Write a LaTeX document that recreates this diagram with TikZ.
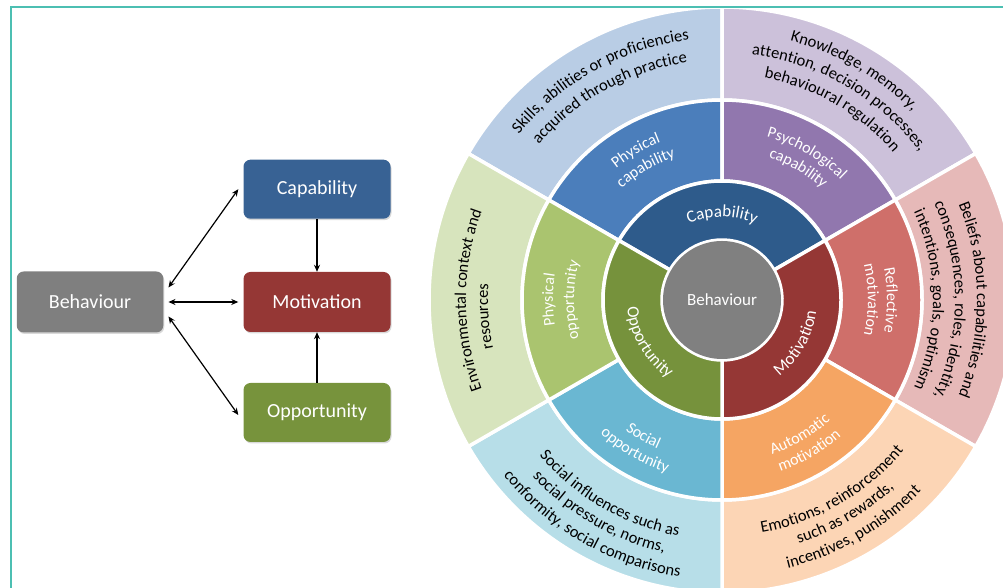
\documentclass[tikz,border=0pt]{standalone}
\usepackage{fontspec}
\setmainfont{Carlito}
\usetikzlibrary{arrows.meta,decorations.text,shadows}
\definecolor{capD}{HTML}{2E5B8B}
\definecolor{capM}{HTML}{4B7EBB}
\definecolor{capL}{HTML}{B9CDE5}
\definecolor{psyM}{HTML}{9177AE}
\definecolor{psyL}{HTML}{CCC1DA}
\definecolor{motD}{HTML}{953735}
\definecolor{refM}{HTML}{CF6F6A}
\definecolor{refL}{HTML}{E6B9B8}
\definecolor{autM}{HTML}{F5A563}
\definecolor{autL}{HTML}{FCD5B5}
\definecolor{socM}{HTML}{6AB7D2}
\definecolor{socL}{HTML}{B7DEE8}
\definecolor{phoM}{HTML}{AAC46F}
\definecolor{phoL}{HTML}{D7E4BD}
\definecolor{oppD}{HTML}{76923C}
\definecolor{behG}{HTML}{808080}
\definecolor{boxCap}{HTML}{386294}
\definecolor{boxMot}{HTML}{953735}
\definecolor{boxOpp}{HTML}{77933C}
\definecolor{boxBeh}{HTML}{7F7F7F}
\definecolor{frameC}{HTML}{4CBFB2}
\newcommand\wfInner{\fontsize{17}{20}\selectfont}
\newcommand\wfMid{\fontsize{16}{19}\selectfont}
\newcommand\wfOuter{\fontsize{16.5}{19}\selectfont}
\newcommand\wSector[5]{%
  \filldraw[fill=#1, draw=white, line width=3.5pt, shift={(C)}]
    (#2:#5pt) arc[start angle=#2, end angle=#3, radius=#5pt]
    -- (#3:#4pt) arc[start angle=#3, end angle=#2, radius=#4pt] -- cycle;}
\newcommand\wTop[5]{%
  \path[shift={(C)}, decorate, decoration={text along path, text align=center,
    text color=#4, text={|#3|#5}}]
    (#1+85:#2pt) arc[start angle=#1+85, end angle=#1-85, radius=#2pt];}
\newcommand\wBot[5]{%
  \path[shift={(C)}, decorate, decoration={text along path, text align=center,
    text color=#4, text={|#3|#5}}]
    (#1-85:#2pt) arc[start angle=#1-85, end angle=#1+85, radius=#2pt];}
\begin{document}
\begin{tikzpicture}[x=1pt,y=1pt,
  cbox/.style={rounded corners=7pt, minimum width=147pt, minimum height=59pt,
    inner sep=0pt, text=white, font=\fontsize{20}{24}\selectfont,
    drop shadow={shadow xshift=1pt, shadow yshift=-1.5pt, opacity=0.3}},
  arr/.style={black, line width=1.2pt, arrows={-Stealth[length=7pt,width=6pt]}},
  barr/.style={black, line width=1.2pt, arrows={Stealth[length=7pt,width=6pt]-Stealth[length=7pt,width=6pt]}}]
\useasboundingbox (0,0) rectangle (1003,588);
\coordinate (C) at (722,288);
% left diagram
\node[cbox, fill=boxCap] (cap) at (317,398.8) {Capability};
\node[cbox, fill=boxMot, minimum height=60pt] (mot) at (317,286) {Motivation};
\node[cbox, fill=boxOpp] (opp) at (317,175.5) {Opportunity};
\node[cbox, fill=boxBeh, minimum width=146.5pt, minimum height=61pt] (beh) at (90,286) {Behaviour};
\draw[barr] ([shift={(5pt,14.5pt)}]beh.east) -- ([xshift=-5pt]cap.west);
\draw[barr] ([xshift=5pt]beh.east) -- ([xshift=-5pt]mot.west);
\draw[barr] ([shift={(5pt,-14.5pt)}]beh.east) -- ([shift={(-5pt,-2.5pt)}]opp.west);
\draw[arr] (cap.south) -- (mot.north);
\draw[arr] (opp.north) -- (mot.south);
% wheel
\begin{scope}
\clip (12,0) rectangle (1003,580);
\wSector{capL}{90}{150}{200}{293}
\wSector{psyL}{30}{90}{200}{293}
\wSector{refL}{-30}{30}{200}{293}
\wSector{autL}{-90}{-30}{200}{293}
\wSector{socL}{210}{270}{200}{293}
\wSector{phoL}{150}{210}{200}{293}
\wSector{capM}{90}{150}{119}{200}
\wSector{psyM}{30}{90}{119}{200}
\wSector{refM}{-30}{30}{119}{200}
\wSector{autM}{-90}{-30}{119}{200}
\wSector{socM}{210}{270}{119}{200}
\wSector{phoM}{150}{210}{119}{200}
\wSector{capD}{30}{150}{60}{119}
\wSector{motD}{-90}{30}{60}{119}
\wSector{oppD}{150}{270}{60}{119}
\node[circle, fill=behG, minimum size=118pt, inner sep=0pt, text=white, font=\wfInner] (wbeh) at (C) {Behaviour};
% inner ring labels
\wTop{90}{83}{\wfInner}{white}{Capability}
\wBot{-30}{95}{\wfInner}{white}{Motivation}
\wBot{210}{95}{\wfInner}{white}{Opportunity}
% middle ring labels
\wTop{120}{169}{\wfMid}{white}{Physical}
\wTop{120}{150}{\wfMid}{white}{capability}
\wTop{60}{169}{\wfMid}{white}{Psychological}
\wTop{60}{150}{\wfMid}{white}{capability}
\wTop{0}{165}{\wfMid}{white}{Reflective}
\wTop{0}{146}{\wfMid}{white}{motivation}
\wTop{180}{169}{\wfMid}{white}{Physical}
\wTop{180}{148}{\wfMid}{white}{opportunity}
\wBot{-60}{162}{\wfMid}{white}{Automatic}
\wBot{-60}{181}{\wfMid}{white}{motivation}
\wBot{240}{162}{\wfMid}{white}{Social}
\wBot{240}{181}{\wfMid}{white}{opportunity}
% outer ring labels
\wTop{119}{262}{\wfOuter}{black}{Skills{,} abilities or proficiencies}
\wTop{119}{240}{\wfOuter}{black}{acquired through practice}
\wTop{60}{268}{\wfOuter}{black}{Knowledge{,} memory{,}}
\wTop{60}{247}{\wfOuter}{black}{attention{,} decision processes{,}}
\wTop{60}{226}{\wfOuter}{black}{behavioural regulation}
\wTop{0}{255}{\wfOuter}{black}{Beliefs about capabilities and}
\wTop{0}{233}{\wfOuter}{black}{consequences{,} roles{,} identity{,}}
\wTop{0}{211}{\wfOuter}{black}{intentions{,} goals{,} optimism}
\wTop{180}{256}{\wfOuter}{black}{Environmental context and}
\wTop{184}{234}{\wfOuter}{black}{resources}
\wBot{-60}{236}{\wfOuter}{black}{Emotions{,} reinforcement}
\wBot{-60}{255}{\wfOuter}{black}{such as rewards{,}}
\wBot{-60}{276}{\wfOuter}{black}{incentives{,} punishment}
\wBot{240}{240}{\wfOuter}{black}{Social influences such as}
\wBot{240}{259}{\wfOuter}{black}{social pressure{,} norms{,}}
\wBot{240}{280}{\wfOuter}{black}{conformity{,} social comparisons}
\end{scope}
\draw[frameC, line width=2.5pt] (10.8,0) -- (10.8,581) -- (1003,581);
\end{tikzpicture}
\end{document}
